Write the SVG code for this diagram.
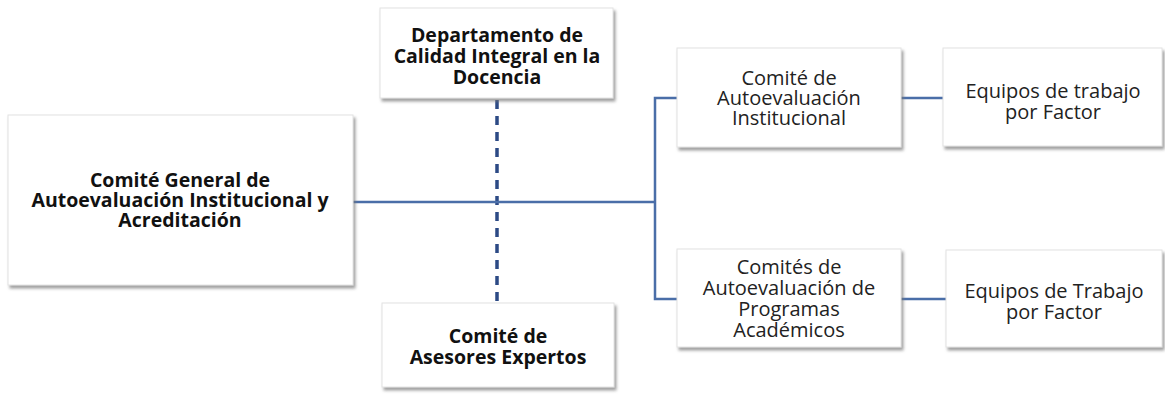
<svg xmlns="http://www.w3.org/2000/svg" width="1165" height="397" viewBox="0 0 1165 397">
<defs>
<filter id="sh" x="-10%" y="-10%" width="125%" height="130%">
<feDropShadow dx="2" dy="3" stdDeviation="1.8" flood-color="#777" flood-opacity="0.7"/>
</filter>
</defs>
<style>
.box{fill:#fff;stroke:#e2e2e2;stroke-width:1;filter:url(#sh)}
.b{font-family:"Open Sans","Liberation Sans",sans-serif;font-weight:bold;font-size:19.5px;fill:#111;text-anchor:middle}
.r{font-family:"Open Sans","Liberation Sans",sans-serif;font-size:20px;fill:#222;text-anchor:middle}
.ln{stroke:#4a6ea8;stroke-width:2.5;fill:none}
.dash{stroke:#2c4a85;stroke-width:3.5;fill:none;stroke-dasharray:9 7}
</style>
<g id="connectors">
<line class="dash" x1="497" y1="100" x2="497" y2="302"/>
<line class="ln" x1="353" y1="202" x2="655" y2="202"/>
<polyline class="ln" points="677,98 655,98 655,299 677,299"/>
<line class="ln" x1="901" y1="98" x2="943" y2="98"/>
<line class="ln" x1="901" y1="299" x2="946" y2="299"/>
</g>
<g id="n1">
<rect class="box" x="8" y="115" width="345" height="170"/>
<text class="b" x="180" y="187">Comité General de</text>
<text class="b" x="180" y="207">Autoevaluación Institucional y</text>
<text class="b" x="180" y="227">Acreditación</text>
</g>
<g id="n2">
<rect class="box" x="380" y="8" width="233" height="90"/>
<text class="b" x="497" y="42">Departamento de</text>
<text class="b" x="497" y="63">Calidad Integral en la</text>
<text class="b" x="497" y="84">Docencia</text>
</g>
<g id="n3">
<rect class="box" x="382" y="303" width="232" height="84"/>
<text class="b" x="498" y="343">Comité de</text>
<text class="b" x="498" y="364">Asesores Expertos</text>
</g>
<g id="n4">
<rect class="box" x="677" y="48" width="224" height="99"/>
<text class="r" x="789" y="85">Comité de</text>
<text class="r" x="789" y="105">Autoevaluación</text>
<text class="r" x="789" y="125">Institucional</text>
</g>
<g id="n5">
<rect class="box" x="677" y="249" width="224" height="98"/>
<text class="r" x="789" y="274">Comités de</text>
<text class="r" x="789" y="295">Autoevaluación de</text>
<text class="r" x="789" y="316">Programas</text>
<text class="r" x="789" y="337">Académicos</text>
</g>
<g id="n6">
<rect class="box" x="943" y="48" width="219" height="98"/>
<text class="r" x="1053" y="98">Equipos de trabajo</text>
<text class="r" x="1053" y="119">por Factor</text>
</g>
<g id="n7">
<rect class="box" x="946" y="250" width="216" height="97"/>
<text class="r" x="1054" y="298">Equipos de Trabajo</text>
<text class="r" x="1054" y="319">por Factor</text>
</g>
</svg>
